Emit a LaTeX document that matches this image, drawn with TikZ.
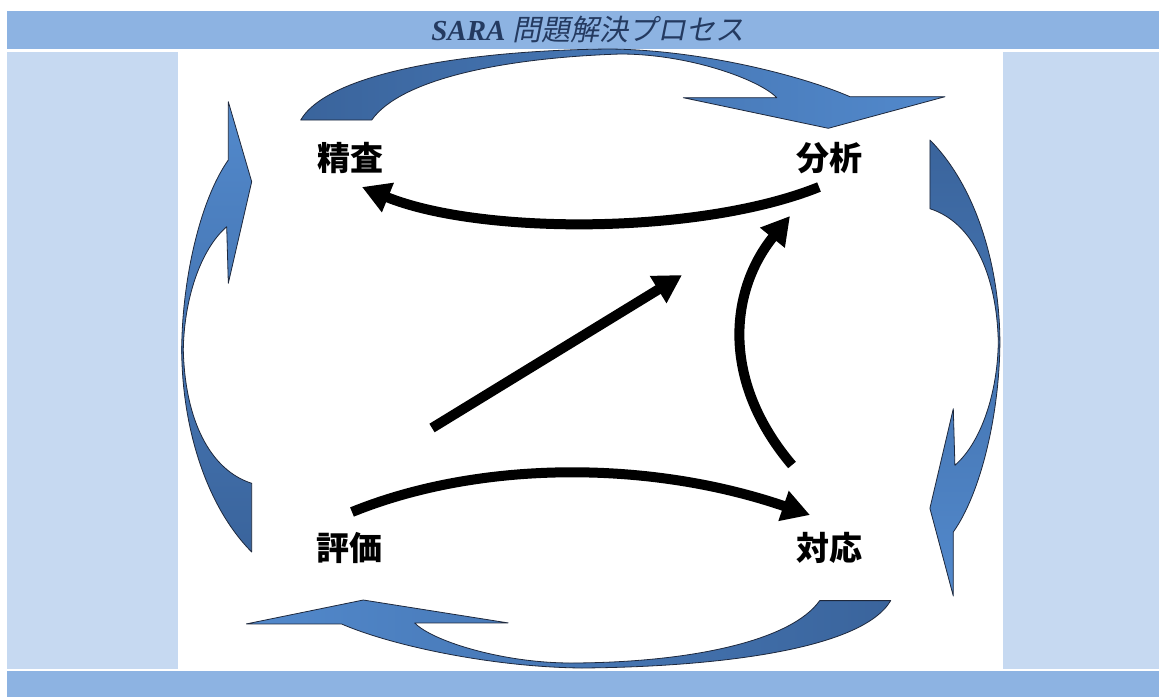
\documentclass[tikz,border=0pt]{standalone}
\usepackage{fontspec}
\setmainfont{Liberation Serif}
\newfontfamily\cjk{Noto Sans CJK JP}
\newfontfamily\cjkit{Noto Sans CJK JP}[FakeSlant=0.2]
\usetikzlibrary{arrows.meta}
\definecolor{band}{RGB}{141,179,226}
\definecolor{panel}{RGB}{198,217,241}
\definecolor{titletext}{RGB}{36,58,96}
\definecolor{bdark}{RGB}{58,100,156}
\definecolor{blight}{RGB}{82,137,204}
\definecolor{bline}{RGB}{30,40,60}
\begin{document}
\begin{tikzpicture}[x=1pt,y=-1pt,
  lbl/.style={font={\cjk\bfseries\fontsize{33}{33}\selectfont}, inner sep=0pt},
  blackarrow/.style={line width=10pt, -{Triangle[length=28pt,width=30pt]}},
  blockarrow/.style={draw=bline, line width=0.8pt, line join=round}]
\useasboundingbox (0,0) rectangle (1159,697);
\fill[white] (0,0) rectangle (1159,697);
% bands and panels
\fill[band] (7,11) rectangle (1159,48.5);
\fill[panel] (7,51.5) rectangle (178,668.5);
\fill[panel] (1003,51.5) rectangle (1159,668.5);
\fill[band] (7,671) rectangle (1159,697);
\node[inner sep=0pt, text=titletext, font={\fontsize{29}{29}\selectfont}] (title) at (588,30)
  {{\bfseries\itshape SARA} \cjkit 問題解決プロセス};
% top block arrow
\path[blockarrow, left color=bdark, right color=blight]
  (300.7,120) .. controls (330,70) and (480,50) .. (610,49)
  .. controls (700,50) and (800,75) .. (850,96.7)
  -- (945,96.7) -- (828.3,128.3) -- (683.3,97.7) -- (776.7,97.7)
  .. controls (760,80) and (690,54) .. (620,54)
  .. controls (500,58) and (400,80) .. (371.7,120) -- cycle;
% bottom block arrow
\path[blockarrow, left color=blight, right color=bdark]
  (890.7,600.6) .. controls (861.4,650.6) and (711.4,667) .. (581.4,668)
  .. controls (491.4,667) and (391.4,645.6) .. (341.4,623.9)
  -- (246.4,623.9) -- (363.3,600) -- (508.1,622.9) -- (414.7,622.9)
  .. controls (431.4,640.6) and (501.4,663) .. (571.4,663)
  .. controls (691.4,662.6) and (791.4,640.6) .. (819.7,600.6) -- cycle;
% left block arrow
\path[blockarrow, top color=blight, bottom color=bdark]
  (251.7,552) .. controls (205,505) and (182,425) .. (181.7,350)
  .. controls (182,280) and (200,200) .. (228.3,160)
  -- (228.3,101.7) -- (251.7,181.7) -- (228.3,283.3) -- (226.7,226.7)
  .. controls (200,250) and (184,300) .. (183.3,350)
  .. controls (185,420) and (210,470) .. (251.7,483.3) -- cycle;
% right block arrow
\path[blockarrow, top color=bdark, bottom color=blight]
  (929.9,140) .. controls (976.6,187) and (999.6,267) .. (999.9,342)
  .. controls (999.6,412) and (981.6,492) .. (953.3,532)
  -- (953.3,596) -- (929.9,508.3) -- (953.3,408.7) -- (954.9,465.3)
  .. controls (981.6,442) and (997.6,392) .. (998.3,342)
  .. controls (996.6,272) and (971.6,222) .. (929.9,208.7) -- cycle;
% labels
\node[lbl] (seisa) at (350,158) {精査};
\node[lbl] (bunseki) at (829,158) {分析};
\node[lbl] (hyoka) at (349,548) {評価};
\node[lbl] (taio) at (829,548) {対応};
% black arrow end points
\coordinate (a1s) at (819,187);
\coordinate (a1e) at (362,187);
\coordinate (a2s) at (432,428);
\coordinate (a2e) at (682,275);
\coordinate (a3s) at (792,465);
\coordinate (a3e) at (790,216);
\coordinate (a4s) at (352,512);
\coordinate (a4e) at (810,515);
\draw[blackarrow] (a1s) .. controls (700,235) and (480,235) .. (a1e);
\draw[blackarrow] (a2s) -- (a2e);
\draw[blackarrow] (a3s) .. controls (720,380) and (730,290) .. (a3e);
\draw[blackarrow] (a4s) .. controls (480,460) and (650,460) .. (a4e);
\end{tikzpicture}
\end{document}
